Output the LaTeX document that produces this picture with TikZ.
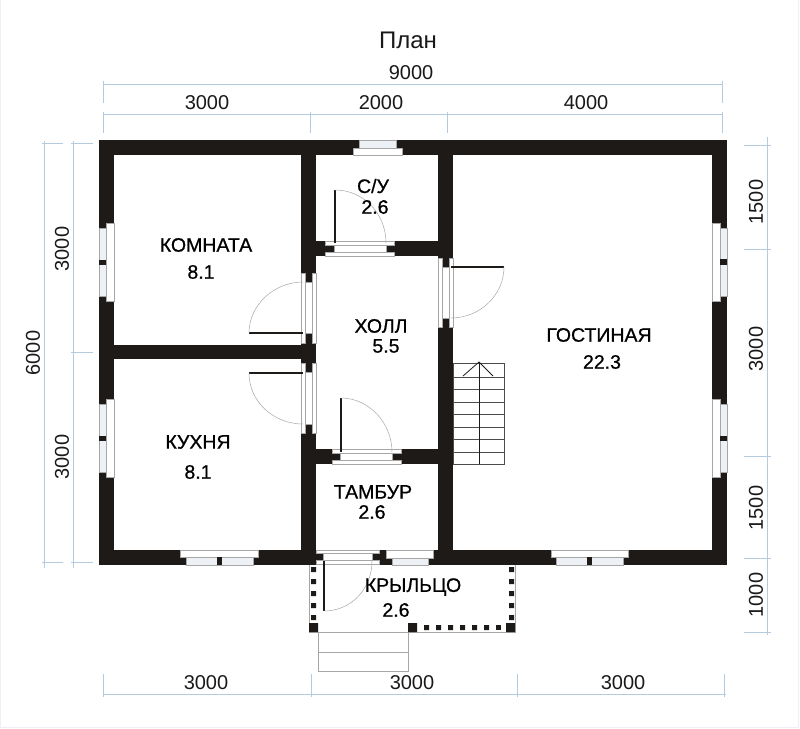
\documentclass[tikz,border=0pt]{standalone}
\usepackage{fontspec}
\setmainfont{Liberation Sans}
\newfontfamily\roomfont[FakeBold=0.8]{Liberation Sans}
\definecolor{wallblack}{HTML}{1D1A18}
\definecolor{dimblue}{HTML}{B4CBDF}
\definecolor{glassblue}{HTML}{EDF1F6}
\definecolor{edgegray}{HTML}{A6A6A6}
\tikzset{
  wall/.style={fill=wallblack},
  opening/.style={fill=white,draw=edgegray,line width=0.6pt},
  glass/.style={fill=glassblue,draw=edgegray,line width=0.5pt},
  leaf/.style={draw=wallblack,line width=1.6pt},
  swing/.style={draw=edgegray,line width=0.5pt},
  dimline/.style={draw=dimblue,line width=0.6pt},
  dimtext/.style={font=\fontsize{20}{20}\selectfont,text=black!90,inner sep=0pt},
  roomtext/.style={font=\fontsize{19.5}{20}\roomfont,text=black,inner sep=0pt},
  outline/.style={draw=edgegray,line width=0.7pt},
  tread/.style={draw=black!70,line width=0.8pt}
}
\begin{document}
\begin{tikzpicture}[x=1pt,y=-1pt]
  \useasboundingbox (0,0) rectangle (800,728);
  \draw [draw=glassblue,line width=1pt] (0.5,0) -- (0.5,727.5) -- (798.5,727.5) -- (798.5,0);
  \node [dimtext,font=\fontsize{24}{24}\selectfont] (title) at (408,40) {План};
  % walls
  \fill [wall] (99,140) rectangle (727,155);
  \fill [wall] (99,550) rectangle (727,565);
  \fill [wall] (99,140) rectangle (114,565);
  \fill [wall] (712,140) rectangle (727,565);
  \fill [wall] (301,140) rectangle (316,565);
  \fill [wall] (438,140) rectangle (453,565);
  \fill [wall] (99,345) rectangle (316,359);
  \fill [wall] (301,241) rectangle (453,256);
  \fill [wall] (301,449) rectangle (453,464);
  % windows
  \draw [opening] (353,148) rectangle (402,155);
  \draw [glass] (359,140) rectangle (396,148);
  \draw [opening] (106,223) rectangle (114,301);
  \draw [glass] (99,228) rectangle (106,296);
  \fill [wall] (99,260) rectangle (106,265);
  \draw [opening] (106,399) rectangle (114,477);
  \draw [glass] (99,404) rectangle (106,472);
  \fill [wall] (99,436) rectangle (106,441);
  \draw [opening] (712,223) rectangle (720,301);
  \draw [glass] (720,228) rectangle (727,296);
  \fill [wall] (720,259) rectangle (727,265);
  \draw [opening] (712,399) rectangle (720,477);
  \draw [glass] (720,404) rectangle (727,472);
  \fill [wall] (720,436) rectangle (727,441);
  \draw [opening] (180,550) rectangle (258,557);
  \draw [glass] (186,557) rectangle (253,565);
  \fill [wall] (217,557) rectangle (222,565);
  \draw [opening] (551,550) rectangle (628,557);
  \draw [glass] (556,557) rectangle (623,565);
  \fill [wall] (587,557) rectangle (592,565);
  \draw [opening] (386,550) rectangle (433,558);
  \draw [glass] (392,558) rectangle (428,565);
  % door openings
  \draw [opening] (301,273) rectangle (305,343);
  \draw [opening] (312,273) rectangle (316,343);
  \draw [opening] (305,282) rectangle (312,333);
  \draw [opening] (301,363) rectangle (305,433);
  \draw [opening] (312,363) rectangle (316,433);
  \draw [opening] (305,372) rectangle (312,424);
  \draw [opening] (438,258) rectangle (442,327);
  \draw [opening] (449,258) rectangle (453,327);
  \draw [opening] (442,267) rectangle (449,318);
  \draw [opening] (325,241) rectangle (394,245);
  \draw [opening] (325,252.5) rectangle (394,256);
  \draw [opening] (334,245) rectangle (386,252.5);
  \draw [opening] (332,449) rectangle (401,453);
  \draw [opening] (332,460) rectangle (401,464);
  \draw [opening] (340,453) rectangle (392,460);
  \draw [opening] (316,550) rectangle (379,553);
  \draw [opening] (316,560) rectangle (379,564);
  \draw [opening] (323,553) rectangle (372,560);
  % door leaves
  \draw [leaf] (249,333) -- (303,333);
  \draw [swing] (249,333) .. controls (249,305) and (274,282) .. (303,282);
  \draw [leaf] (249,373) -- (303,373);
  \draw [swing] (249,373) .. controls (249,402) and (274,424) .. (303,424);
  \draw [leaf] (504,267) -- (451,267);
  \draw [swing] (504,267) .. controls (504,295) and (480,318) .. (451,318);
  \draw [leaf] (335,190) -- (335,243);
  \draw [swing] (335,190) .. controls (364,190) and (386,214) .. (386,243);
  \draw [leaf] (341,398) -- (341,452);
  \draw [swing] (341,398) .. controls (369,398) and (392,423) .. (392,452);
  \draw [leaf] (324,561) -- (324,611);
  \draw [swing] (324,611) .. controls (351,611) and (372,589) .. (372,561);
  % stairs
  \draw [tread] (453,363) rectangle (504,464);
  \draw [tread] (453,377) -- (504,377);
  \draw [tread] (453,389) -- (504,389);
  \draw [tread] (453,402) -- (504,402);
  \draw [tread] (453,414) -- (504,414);
  \draw [tread] (453,427) -- (504,427);
  \draw [tread] (453,439) -- (504,439);
  \draw [tread] (453,452) -- (504,452);
  \draw [draw=wallblack,line width=0.8pt] (479,362) -- (479,464);
  \draw [draw=wallblack,line width=0.8pt] (463,376) -- (479,362) -- (493,376);
  % porch
  \draw [outline] (309,565) -- (309,632) -- (515,632) -- (515,565);
  \draw [outline] (318,632) -- (318,671) -- (408,671) -- (408,632);
  \draw [outline] (318,652) -- (408,652);
  \fill [wall] (309,623) rectangle (318,632) (408,623) rectangle (417,632) (506,623) rectangle (515,632);
  \fill [wall] (311,567) rectangle (316,572) (311,579) rectangle (316,584) (311,591) rectangle (316,596);
  \fill [wall] (311,603) rectangle (316,608) (311,615) rectangle (316,620);
  \fill [wall] (509,567) rectangle (514,572) (509,579) rectangle (514,584) (509,591) rectangle (514,596);
  \fill [wall] (509,603) rectangle (514,608) (509,615) rectangle (514,620);
  \fill [wall] (424,625) rectangle (429,630) (436,625) rectangle (441,630) (448,625) rectangle (453,630);
  \fill [wall] (460,625) rectangle (465,630) (472,625) rectangle (477,630) (484,625) rectangle (489,630);
  \fill [wall] (496,625) rectangle (501,630);
  % dimensions
  \draw [dimline] (103,84) -- (722,84);
  \draw [dimline] (103,114) -- (722,114);
  \draw [dimline] (103,81) -- (103,103);
  \draw [dimline] (722,81) -- (722,103);
  \draw [dimline] (103,112) -- (103,133);
  \draw [dimline] (310,112) -- (310,133);
  \draw [dimline] (447,112) -- (447,133);
  \draw [dimline] (722,112) -- (722,133);
  \draw [dimline] (44,141) -- (44,568);
  \draw [dimline] (73,141) -- (73,568);
  \draw [dimline] (42,143) -- (63,143);
  \draw [dimline] (42,562) -- (63,562);
  \draw [dimline] (71,143) -- (93,143);
  \draw [dimline] (71,352) -- (93,352);
  \draw [dimline] (71,562) -- (93,562);
  \draw [dimline] (767,137) -- (767,635);
  \draw [dimline] (744,145) -- (771,145);
  \draw [dimline] (744,249) -- (771,249);
  \draw [dimline] (744,456) -- (771,456);
  \draw [dimline] (744,558) -- (771,558);
  \draw [dimline] (744,632) -- (771,632);
  \draw [dimline] (103,694) -- (726,694);
  \draw [dimline] (103,674) -- (103,697);
  \draw [dimline] (311,674) -- (311,697);
  \draw [dimline] (517,674) -- (517,697);
  \draw [dimline] (724,674) -- (724,697);
  \node [dimtext] (dimall) at (411,73) {9000};
  \node [dimtext] (dimtopa) at (207,103) {3000};
  \node [dimtext] (dimtopb) at (381,103) {2000};
  \node [dimtext] (dimtopc) at (586,103) {4000};
  \node [dimtext,rotate=90] (dimhigh) at (33,353) {6000};
  \node [dimtext,rotate=90] (dimlefta) at (62,249) {3000};
  \node [dimtext,rotate=90] (dimleftb) at (62,457) {3000};
  \node [dimtext,rotate=90] (dimrighta) at (756,202) {1500};
  \node [dimtext,rotate=90] (dimrightb) at (756,349) {3000};
  \node [dimtext,rotate=90] (dimrightc) at (756,508) {1500};
  \node [dimtext,rotate=90] (dimrightd) at (756,595) {1000};
  \node [dimtext] (dimlowa) at (206,683) {3000};
  \node [dimtext] (dimlowb) at (412,683) {3000};
  \node [dimtext] (dimlowc) at (623,683) {3000};
  % rooms
  \node [roomtext] (komnata) at (206,245) {КОМНАТА};
  \node [roomtext] (komnataarea) at (201,272) {8.1};
  \node [roomtext] (kuhnya) at (198,442) {КУХНЯ};
  \node [roomtext] (kuhnyaarea) at (198,472) {8.1};
  \node [roomtext] (su) at (373,186) {С/У};
  \node [roomtext] (suarea) at (375,207) {2.6};
  \node [roomtext] (holl) at (381,326) {ХОЛЛ};
  \node [roomtext] (hollarea) at (386,346) {5.5};
  \node [roomtext] (gostinaya) at (599,335) {ГОСТИНАЯ};
  \node [roomtext] (gostinayaarea) at (602,362) {22.3};
  \node [roomtext] (tambur) at (373,492) {ТАМБУР};
  \node [roomtext] (tamburarea) at (372,512) {2.6};
  \node [roomtext] (kryltso) at (413,587) {КРЫЛЬЦО};
  \node [roomtext] (kryltsoarea) at (396,610) {2.6};
\end{tikzpicture}
\end{document}
